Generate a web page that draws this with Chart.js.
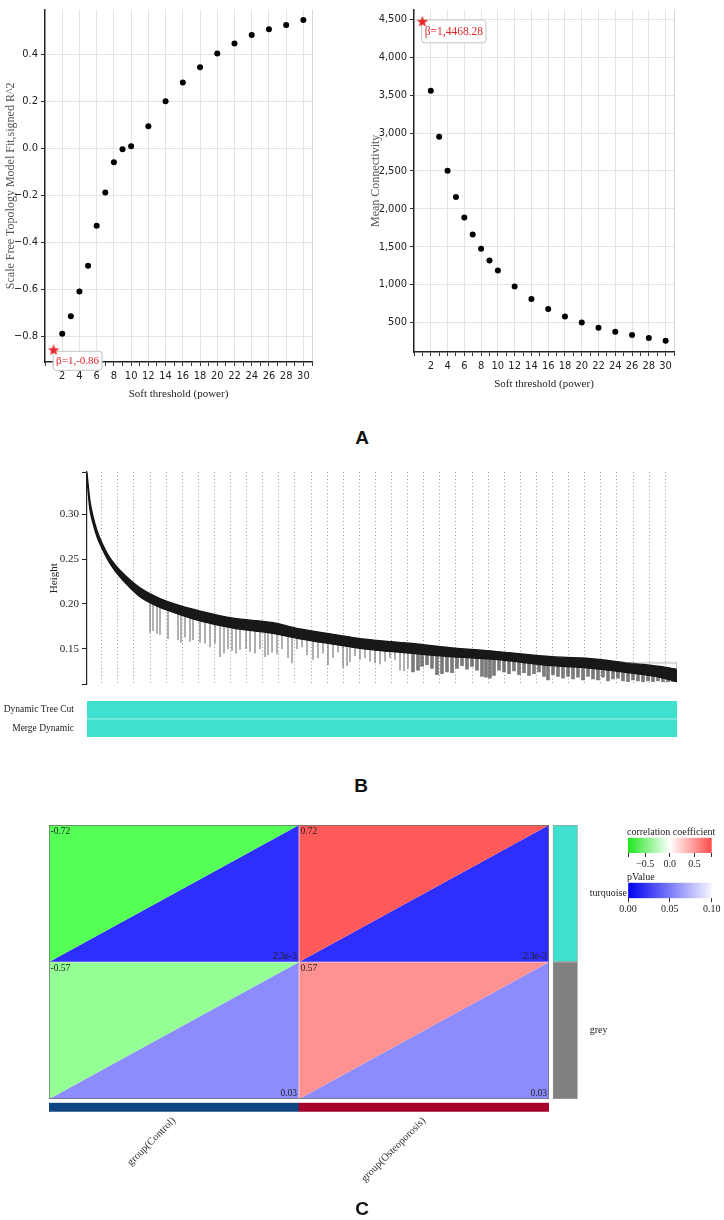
<!DOCTYPE html>
<html><head><meta charset="utf-8"><title>WGCNA figure</title>
<script src="https://cdn.jsdelivr.net/npm/chart.js@4.4.1/dist/chart.umd.min.js"></script>
<style>
html,body{margin:0;padding:0;background:#fff;}
body{width:724px;height:1220px;position:relative;overflow:hidden;}
canvas{position:absolute;display:block;}
.plab{position:absolute;font:bold 19px 'Liberation Sans',Arial,sans-serif;color:#111;transform:translate(-50%,-50%);line-height:1;}
</style></head><body>
<canvas id="cR2" style="left:0px;top:0px;width:330px;height:405px" width="330" height="405"></canvas>
<canvas id="cK" style="left:360px;top:0px;width:330px;height:395px" width="330" height="395"></canvas>
<div class="plab" style="left:362px;top:437px">A</div>
<canvas id="cTree" style="left:45px;top:462px;width:655px;height:232px" width="655" height="232"></canvas>
<canvas id="cColors" style="left:0px;top:690px;width:700px;height:58px" width="700" height="58"></canvas>
<div class="plab" style="left:361px;top:785px">B</div>
<canvas id="cHeat" style="left:40px;top:815px;width:520px;height:294px" width="520" height="294"></canvas>
<canvas id="cGroup" style="left:40px;top:1100px;width:520px;height:110px" width="520" height="110"></canvas>
<canvas id="cMod" style="left:548px;top:815px;width:110px;height:294px" width="110" height="294"></canvas>
<canvas id="cLegR" style="left:612px;top:823px;width:112px;height:48px" width="112" height="48"></canvas>
<canvas id="cLegP" style="left:612px;top:868px;width:112px;height:46px" width="112" height="46"></canvas>
<div class="plab" style="left:362px;top:1208px">C</div>
<script>
// ================= DATA =================
// Panel A: soft-threshold analysis
const softPowers = [2,3,4,5,6,7,8,9,10,12,14,16,18,20,22,24,26,28,30];
const scaleFreeR2 = [-0.79,-0.715,-0.61,-0.50,-0.33,-0.188,-0.06,-0.004,0.008,0.093,0.20,0.28,0.345,0.403,0.446,0.482,0.506,0.524,0.546];
const meanConnectivity = [3560,2953,2504,2157,1886,1662,1474,1317,1187,974,808,679,578,500,430,378,334,295,260];
const chosenPower = 1;
const chosenR2 = -0.86;
const chosenConnectivity = 4468.28;
const connectivityTicks = [500,1000,1500,2000,2500,3000,3500,4000,4500];

// Panel B: gene dendrogram (leaf order 0..leafCount) – main merge band
const leafCount = 590;
const treeLeaf   = [0,1,3,6,10,15,21,28,38,53,73,93,113,146,186,213,246,275,322,363,408,465,495,542,573,590];
const treeTop    = [0.347,0.335,0.315,0.298,0.282,0.268,0.255,0.244,0.232,0.218,0.206,0.198,0.192,0.184,0.179,0.172,0.166,0.161,0.156,0.151,0.147,0.141,0.1395,0.134,0.130,0.127];
const treeBottom = [0.343,0.327,0.305,0.290,0.275,0.262,0.249,0.237,0.224,0.208,0.196,0.188,0.181,0.173,0.167,0.161,0.155,0.150,0.145,0.141,0.138,0.131,0.129,0.123,0.118,0.113];
// hanging branches (left, lighter part)
const branchLeafL = [63,66,70,73,81,91,94,98,103,106,113,118,123,128,133,137,141,145,149,153,159,163,168,173,178,181,185,190,195,201,205,210,215,220,226,231,236,241,246,251,256,260,263,268,273,278,283,288,293,298,303,308,313,317,321];
const branchTopL  = [0.204,0.203,0.201,0.200,0.197,0.194,0.193,0.192,0.191,0.190,0.187,0.186,0.185,0.184,0.182,0.181,0.180,0.179,0.178,0.178,0.177,0.176,0.175,0.174,0.173,0.173,0.172,0.171,0.170,0.169,0.168,0.167,0.166,0.165,0.164,0.163,0.162,0.161,0.160,0.160,0.159,0.158,0.158,0.157,0.156,0.156,0.155,0.155,0.154,0.153,0.153,0.152,0.151,0.151,0.150];
const branchLowL  = [0.168,0.170,0.167,0.166,0.161,0.160,0.157,0.163,0.158,0.160,0.157,0.156,0.152,0.156,0.141,0.145,0.150,0.148,0.145,0.149,0.150,0.147,0.145,0.150,0.141,0.143,0.146,0.144,0.150,0.140,0.134,0.150,0.152,0.143,0.138,0.140,0.145,0.132,0.140,0.146,0.129,0.131,0.135,0.142,0.138,0.140,0.136,0.134,0.133,0.136,0.140,0.138,0.126,0.125,0.128];
// hanging branches (right, dense part)
const branchLeafR = [326,331,335,340,345,350,355,360,365,370,375,380,385,390,395,399,403,407,412,417,422,427,432,437,442,447,452,457,461,466,471,476,481,486,491,496,501,506,511,516,521,526,531,536,541,546,551,556,561,566,571,576,581,586];
const branchTopR  = [0.150,0.150,0.149,0.149,0.148,0.148,0.147,0.147,0.146,0.146,0.145,0.145,0.144,0.144,0.143,0.143,0.142,0.142,0.142,0.141,0.141,0.140,0.140,0.139,0.139,0.138,0.138,0.137,0.137,0.136,0.136,0.135,0.135,0.134,0.134,0.134,0.133,0.132,0.131,0.131,0.130,0.130,0.129,0.128,0.128,0.127,0.126,0.125,0.124,0.123,0.123,0.122,0.121,0.120];
const branchLowR  = [0.124,0.126,0.130,0.132,0.128,0.121,0.122,0.124,0.123,0.128,0.131,0.127,0.130,0.126,0.119,0.118,0.117,0.120,0.126,0.124,0.122,0.125,0.121,0.123,0.120,0.122,0.124,0.119,0.115,0.121,0.119,0.117,0.119,0.116,0.118,0.115,0.119,0.116,0.115,0.118,0.114,0.116,0.117,0.114,0.113,0.115,0.114,0.113,0.114,0.113,0.114,0.113,0.113,0.113];
const lastClusterLeaf   = [495,590,590];
const lastClusterHeight = [0.134,0.134,0.113];
const heightTicks = [0.15,0.20,0.25,0.30];
const colorRowLabels  = ['Dynamic Tree Cut','Merge Dynamic'];
const colorRowModules = ['turquoise','turquoise'];

// Panel C: module–trait relationships
const traits  = ['group(Control)','group(Osteoporosis)'];
const modules = ['turquoise','grey'];
const corrValues = [[-0.72, 0.72],[-0.57, 0.57]];
const pValues    = [[0.0023, 0.0023],[0.03, 0.03]];
const corrLegendRange = [-0.85, 0.85];
const corrLegendTicks = [-0.5, 0, 0.5];
const pLegendRange = [0, 0.10];
const pLegendTicks = [0, 0.05, 0.10];

// ================= STYLE =================
const SERIF = "'Liberation Serif','DejaVu Serif','Times New Roman',serif";
const COND  = "'DejaVu Sans Condensed','Liberation Sans Narrow','DejaVu Sans',sans-serif";
const moduleColor = {turquoise:'#40E0D0', grey:'#808080'};
const corrFill = [['#55ff55','#ff5a5a'],['#94ff94','#ff9191']];
const pFill    = [['#2e2eff','#2e2eff'],['#8c8cff','#8c8cff']];
const groupColor = ['#0d4682','#a6002a'];

Chart.defaults.animation = false;
Chart.defaults.responsive = false;
Chart.defaults.maintainAspectRatio = false;
Chart.defaults.plugins.legend.display = false;
Chart.defaults.plugins.tooltip.enabled = false;

function makeStar(size, color){
  const c = document.createElement('canvas'); c.width = size; c.height = size;
  const g = c.getContext('2d'); g.fillStyle = color; g.beginPath();
  const cx = size/2, cy = size/2, R = size/2, r = R*0.42;
  for (let k=0;k<10;k++){ const rad = k%2 ? r : R; const a = -Math.PI/2 + k*Math.PI/5;
    const px = cx + rad*Math.cos(a), py = cy + rad*Math.sin(a); k ? g.lineTo(px,py) : g.moveTo(px,py); }
  g.closePath(); g.fill(); return c;
}
const starImg = makeStar(12, '#e8262b');

function rr(ctx,x,y,w,h,r){ ctx.moveTo(x+r,y); ctx.lineTo(x+w-r,y); ctx.quadraticCurveTo(x+w,y,x+w,y+r);
  ctx.lineTo(x+w,y+h-r); ctx.quadraticCurveTo(x+w,y+h,x+w-r,y+h); ctx.lineTo(x+r,y+h);
  ctx.quadraticCurveTo(x,y+h,x,y+h-r); ctx.lineTo(x,y+r); ctx.quadraticCurveTo(x,y,x+r,y); ctx.closePath(); }

const callout = {
  id:'callout',
  beforeDatasetsDraw(chart, args, o){
    if (!o || !o.text) return;
    const pt = chart.getDatasetMeta(o.datasetIndex).data[0];
    const ctx = chart.ctx; ctx.save();
    ctx.font = o.size + 'px ' + SERIF;
    const w = ctx.measureText(o.text).width + 2*o.padX;
    const x = pt.x + o.dx, y = pt.y + o.dy, h = o.h;
    ctx.beginPath(); rr(ctx,x,y,w,h,3);
    ctx.fillStyle = 'rgba(255,255,255,0.95)'; ctx.fill();
    ctx.strokeStyle = '#c4c4c4'; ctx.lineWidth = 1; ctx.stroke();
    ctx.fillStyle = '#e0282c'; ctx.textBaseline = 'middle'; ctx.textAlign = 'left';
    ctx.fillText(o.text, x + o.padX, y + h/2 + 0.5);
    ctx.restore();
  }
};

function inList(list, v){ return list.some(t => Math.abs(t - v) < 1e-9); }
function explicitTicks(list){
  return s => { const out = [];
    list.forEach(v => { if (!inList(out, v)) out.push(v); });
    s.ticks = out.map(v => ({value:v})); };
}

function powerAxis(h){
  return {
    type:'linear', min:0, max:31,
    afterFit: s => { s.height = h; },
    border:{color:'#222', width:1.5},
    grid:{ color: c => { const v = c.tick ? c.tick.value : -1; return (v>0 && v%2===0) ? '#e4e4e4' : (v===31 ? '#d8d8d8' : 'rgba(0,0,0,0)'); },
           tickColor:'#333', tickLength:4, lineWidth:1 },
    ticks:{ stepSize:1, autoSkip:false, maxRotation:0, minRotation:0, padding:4, color:'#222',
            font:{family:COND, size:11}, callback: v => (v>0 && v%2===0) ? String(v) : '' },
    title:{ display:true, text:'Soft threshold (power)', color:'#222', font:{family:SERIF, size:11}, padding:{top:0, bottom:4} }
  };
}

// ---------- A left ----------
new Chart(document.getElementById('cR2'), {
  type:'scatter',
  data:{ datasets:[
    { data: softPowers.map((p,i)=>({x:p, y:scaleFreeR2[i]})), pointRadius:3, pointBackgroundColor:'#000', pointBorderWidth:0 },
    { data: [{x:chosenPower, y:chosenR2}], pointStyle: starImg, pointRadius:6 }
  ]},
  options:{
    layout:{ padding:{top:8, right:18, left:0, bottom:0} },
    scales:{
      x: powerAxis(43),
      y:{ min:-0.91, max:0.59, afterFit: s => { s.width = 45; },
          border:{color:'#222', width:1.5},
          grid:{ color:'#e4e4e4', tickColor:'#333', tickLength:4 },
          ticks:{ stepSize:0.2, includeBounds:false, padding:3, color:'#222', font:{family:COND, size:11},
                  callback: v => Math.abs(v) < 1e-9 ? '0.0' : (v<0 ? '\u2212' : '') + Math.abs(v).toFixed(1) },
          title:{ display:true, text:'Scale Free Topology Model Fit,signed R^2', color:'#555', font:{family:SERIF, size:12}, padding:{top:4, bottom:0} } }
    },
    plugins:{ callout:{ datasetIndex:1, text:'\u03b2=' + chosenPower + ',' + chosenR2, size:11, padX:3, dx:-0.5, dy:1, h:19 } }
  },
  plugins:[callout]
});

// ---------- A right ----------
new Chart(document.getElementById('cK'), {
  type:'scatter',
  data:{ datasets:[
    { data: softPowers.map((p,i)=>({x:p, y:meanConnectivity[i]})), pointRadius:3, pointBackgroundColor:'#000', pointBorderWidth:0 },
    { data: [{x:chosenPower, y:chosenConnectivity}], pointStyle: starImg, pointRadius:6 }
  ]},
  options:{
    layout:{ padding:{top:7, right:16, left:0, bottom:0} },
    scales:{
      x: powerAxis(43),
      y:{ min:110, max:4630, afterFit: s => { s.width = 54; },
          afterBuildTicks: explicitTicks(connectivityTicks),
          border:{color:'#222', width:1.5},
          grid:{ color:'#e4e4e4', tickColor:'#333', tickLength:4 },
          ticks:{ padding:3, color:'#222', font:{family:COND, size:11},
                  callback: v => Number(v).toLocaleString('en-US') },
          title:{ display:true, text:'Mean Connectivity', color:'#555', font:{family:SERIF, size:12}, padding:{top:8.5, bottom:0} } }
    },
    plugins:{ callout:{ datasetIndex:1, text:'\u03b2=' + chosenPower + ',' + chosenConnectivity, size:11.5, padX:3, dx:-0.7, dy:-2, h:23 } }
  },
  plugins:[callout]
});

// ---------- B dendrogram ----------
const guideStart = 14.7, guideStep = 16.1, guideCount = 36;
new Chart(document.getElementById('cTree'), {
  type:'line',
  data:{ datasets:[
    { type:'bar', data: branchLeafL.map((x,i)=>({x, y:[branchLowL[i], branchTopL[i]]})),
      backgroundColor:'rgba(95,95,95,0.5)', grouped:false, barPercentage:1, categoryPercentage:1, maxBarThickness:1.3, order:4 },
    { type:'bar', data: branchLeafR.map((x,i)=>({x, y:[branchLowR[i], branchTopR[i]]})),
      backgroundColor:'rgba(35,35,35,0.6)', grouped:false, barPercentage:1, categoryPercentage:1, maxBarThickness:3.2, order:3 },
    { data: treeLeaf.map((x,i)=>({x, y:treeTop[i]})), borderColor:'#141414', borderWidth:1.3, pointRadius:0, fill:false, cubicInterpolationMode:'monotone', order:1 },
    { data: treeLeaf.map((x,i)=>({x, y:treeBottom[i]})), borderColor:'#141414', borderWidth:1.3, pointRadius:0, fill:'-1', backgroundColor:'#181818', cubicInterpolationMode:'monotone', order:0 },
    { data: lastClusterLeaf.map((x,i)=>({x, y:lastClusterHeight[i]})), borderColor:'#b4b4b4', borderWidth:1, pointRadius:0, fill:false, order:0 }
  ]},
  options:{
    layout:{ padding:{top:10, right:23, left:0, bottom:0} },
    scales:{
      x:{ type:'linear', min:0, max:leafCount, offset:false,
          afterFit: s => { s.height = 4; },
          afterBuildTicks: s => { const t=[]; for (let k=0;k<guideCount;k++) t.push({value: guideStart + k*guideStep}); s.ticks = t; },
          ticks:{ display:false },
          grid:{ offset:false, color:'#9a9a9a', lineWidth:1, drawTicks:false },
          border:{ display:false, dash:[1,2.5] } },
      y:{ min:0.11, max:0.3475, afterFit: s => { s.width = 42; },
          afterBuildTicks: explicitTicks([0.11].concat(heightTicks, [0.3475])),
          border:{color:'#222', width:1.2},
          grid:{ drawOnChartArea:false, tickColor:'#222', tickLength:5 },
          ticks:{ padding:3, color:'#222', font:{family:SERIF, size:11},
                  callback: v => inList(heightTicks, v) ? v.toFixed(2) : '' },
          title:{ display:true, text:'Height', color:'#222', font:{family:SERIF, size:11}, padding:{top:3, bottom:0} } }
    }
  }
});

// ---------- B colour rows ----------
new Chart(document.getElementById('cColors'), {
  type:'bar',
  data:{ labels: colorRowLabels, datasets:[{
    data: colorRowModules.map(() => [0, leafCount]),
    backgroundColor: colorRowModules.map(m => moduleColor[m]),
    barPercentage:0.96, categoryPercentage:1
  }]},
  options:{
    indexAxis:'y',
    layout:{ padding:{top:3, right:23, left:0, bottom:4} },
    scales:{
      x:{ min:0, max:leafCount, display:false },
      y:{ afterFit: s => { s.width = 87; }, grid:{display:false}, border:{display:false},
          ticks:{ color:'#222', font:{family:SERIF, size:9.5}, padding:5 } }
    }
  }
});

// ---------- C heatmap ----------
function fmtP(p){ return p < 0.01 ? p.toExponential(1) : String(p); }
const heatSets = [];
modules.forEach((m,i) => {
  const r = modules.length - 1 - i;
  traits.forEach((t,j) => {
    const diag = [{x:j, y:r}, {x:j+1, y:r+1}];
    heatSets.push({ data:diag, fill:{target:{value:r+1}}, backgroundColor:corrFill[i][j], borderColor:'rgba(0,0,0,0)', borderWidth:0, pointRadius:0, order:5 });
    heatSets.push({ data:diag, fill:{target:{value:r}},   backgroundColor:pFill[i][j],    borderColor:'rgba(0,0,0,0)', borderWidth:0, pointRadius:0, order:5 });
  });
});
heatSets.push({ data:[{x:1,y:0},{x:1,y:modules.length}], borderColor:'rgba(255,235,235,0.75)', borderWidth:1, pointRadius:0, fill:false, order:1 });
heatSets.push({ data:[{x:0,y:1},{x:traits.length,y:1}], borderColor:'rgba(235,235,255,0.6)', borderWidth:1, pointRadius:0, fill:false, order:1 });
heatSets.push({ data:[{x:0,y:0},{x:2,y:0},{x:2,y:2},{x:0,y:2},{x:0,y:0}], borderColor:'#707070', borderWidth:1.5, pointRadius:0, fill:false, order:0 });

const cellText = {
  id:'cellText',
  afterDatasetsDraw(chart){
    const {ctx} = chart; const x = chart.scales.x, y = chart.scales.y;
    ctx.save(); ctx.font = '9.5px ' + SERIF; ctx.fillStyle = '#222';
    modules.forEach((m,i) => { const r = modules.length - 1 - i;
      traits.forEach((t,j) => {
        ctx.textAlign = 'left'; ctx.textBaseline = 'top';
        ctx.fillText(String(corrValues[i][j]), x.getPixelForValue(j) + 1.5, y.getPixelForValue(r+1) + 2);
        ctx.textAlign = 'right'; ctx.textBaseline = 'bottom';
        ctx.fillText(fmtP(pValues[i][j]), x.getPixelForValue(j+1) - 2, y.getPixelForValue(r) - 1);
      });
    });
    ctx.restore();
  }
};

new Chart(document.getElementById('cHeat'), {
  type:'line',
  data:{ datasets: heatSets },
  options:{
    layout:{ padding:{left:9, right:11, top:10, bottom:10} },
    scales:{ x:{type:'linear', min:0, max:traits.length, display:false}, y:{min:0, max:modules.length, display:false} }
  },
  plugins:[cellText]
});

// ---------- C trait colour bar + labels ----------
new Chart(document.getElementById('cGroup'), {
  type:'bar',
  data:{ labels: traits, datasets:[{ data: traits.map(() => [0,1]), backgroundColor: groupColor, barPercentage:1, categoryPercentage:1 }] },
  options:{
    layout:{ padding:{left:9, right:11, top:2.7, bottom:0} },
    scales:{
      y:{ min:0, max:1, display:false },
      x:{ afterFit: s => { s.height = 98.3; }, grid:{display:false}, border:{display:false},
          ticks:{ minRotation:45, maxRotation:45, autoSkip:false, padding:-5, color:'#333', font:{family:SERIF, size:10.5} } }
    }
  }
});

// ---------- C module colour column ----------
new Chart(document.getElementById('cMod'), {
  type:'bar',
  data:{ labels: modules, datasets:[{ data: modules.map(() => [0,1]), backgroundColor: modules.map(m => moduleColor[m]),
    borderColor:'#a0a0a0', borderWidth:1, borderSkipped:false, barPercentage:1, categoryPercentage:1 }] },
  options:{
    indexAxis:'y',
    layout:{ padding:{left:4.7, right:0, top:10, bottom:10} },
    scales:{
      x:{ min:0, max:1, display:false },
      y:{ position:'right', afterFit: s => { s.width = 80.3; }, grid:{display:false}, border:{display:false},
          ticks:{ color:'#222', font:{family:SERIF, size:10}, padding:4 } }
    }
  }
});

// ---------- C legends ----------
const legendTitle = {
  id:'legendTitle',
  afterDraw(chart, args, o){
    const a = chart.chartArea; const ctx = chart.ctx; ctx.save();
    ctx.font = o.size + 'px ' + SERIF; ctx.fillStyle = '#222'; ctx.textAlign = 'left'; ctx.textBaseline = 'alphabetic';
    ctx.fillText(o.text, a.left - 1, a.top - 2.5); ctx.restore();
  }
};
function gradientBar(stops){
  return c => { const a = c.chart.chartArea; if (!a) return '#fff';
    const g = c.chart.ctx.createLinearGradient(a.left, 0, a.right, 0);
    stops.forEach(s => g.addColorStop(s[0], s[1])); return g; };
}
function legendChart(id, range, tickList, stops, title, fmt, axisH){
  new Chart(document.getElementById(id), {
    type:'bar',
    data:{ labels:[title], datasets:[{ data:[range], backgroundColor: gradientBar(stops), barPercentage:1, categoryPercentage:1 }] },
    options:{
      indexAxis:'y',
      layout:{ padding:{left:16, right:12.3, top:14.7, bottom:0} },
      scales:{
        y:{ display:false },
        x:{ min:range[0], max:range[1], afterFit: s => { s.height = axisH; },
            afterBuildTicks: explicitTicks([range[0]].concat(tickList, [range[1]])),
            border:{display:false},
            grid:{ drawOnChartArea:false, tickColor:'#333', tickLength:4 },
            ticks:{ autoSkip:false, maxRotation:0, padding:1, color:'#222', font:{family:SERIF, size:10},
                    callback: v => inList(tickList, v) ? fmt(v) : '' } }
      },
      plugins:{ legendTitle:{ text:title, size:10 } }
    },
    plugins:[legendTitle]
  });
}
legendChart('cLegR', corrLegendRange, corrLegendTicks, [[0,'#1ee61e'],[0.5,'#ffffff'],[1,'#ff4d4d']], 'correlation coefficient',
  v => Math.abs(v) < 1e-9 ? '0.0' : (v<0 ? '\u2212' : '') + Math.abs(v).toFixed(1), 18);
legendChart('cLegP', pLegendRange, pLegendTicks, [[0,'#0000f0'],[1,'#f6f6ff']], 'pValue', v => v.toFixed(2), 15.7);
</script>
</body></html>
